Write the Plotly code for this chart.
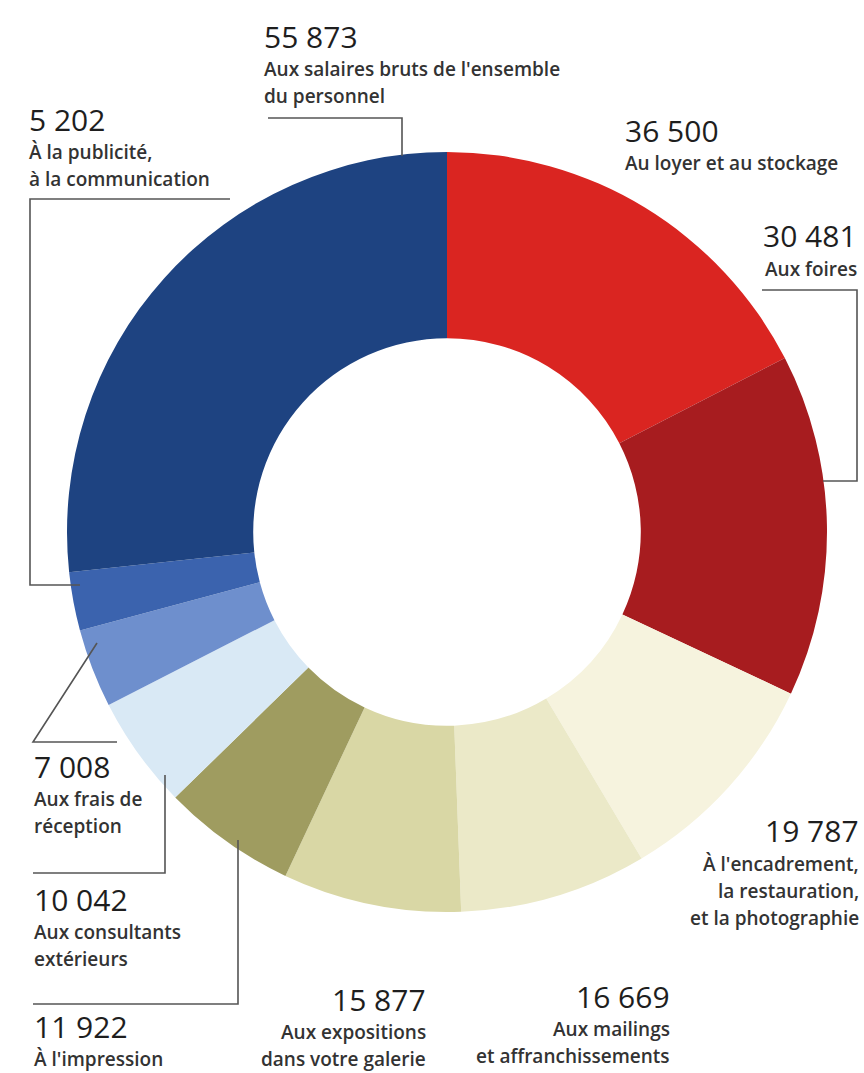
import plotly.graph_objects as go

# Expense breakdown (euros), clockwise from 12 o'clock
values = [36500, 30481, 19787, 16669, 15877, 11922, 10042, 7008, 5202, 55873]
captions = [
    ["Au loyer et au stockage"],
    ["Aux foires"],
    ["À l'encadrement,", "la restauration,", "et la photographie"],
    ["Aux mailings", "et affranchissements"],
    ["Aux expositions", "dans votre galerie"],
    ["À l'impression"],
    ["Aux consultants", "extérieurs"],
    ["Aux frais de", "réception"],
    ["À la publicité,", "à la communication"],
    ["Aux salaires bruts de l'ensemble", "du personnel"],
]
colors = ["#da2521", "#a71c1f", "#f6f3de", "#ebe9c8", "#d9d7a5", "#9f9c60",
          "#d9e9f5", "#6e8fcd", "#3b63ae", "#1e4381"]

W, H = 864, 1073


def px(x, y):
    return x / W, 1 - y / H


def fmt(v):
    return f"{v:,}".replace(",", " ")


# label anchor: x pixel, number centre y pixel, alignment
label_pos = [
    (624, 130, "left"),
    (858, 236, "right"),
    (860, 831, "right"),
    (671, 996, "right"),
    (427, 999, "right"),
    (33, 1026, "left"),
    (33, 899, "left"),
    (33, 766, "left"),
    (28, 119, "left"),
    (263, 36, "left"),
]

# leader lines in pixel space
leaders = [
    [(268, 118), (402, 118), (402, 156)],
    [(230, 199), (30, 199), (30, 585), (80, 585)],
    [(762, 290), (857, 290), (857, 481), (823, 481)],
    [(117, 742), (33, 742), (97, 643)],
    [(33, 873), (165, 873), (165, 775)],
    [(33, 1004), (238, 1004), (238, 840)],
]

fig = go.Figure()
fig.add_trace(go.Pie(
    values=values,
    labels=[" ".join(c) for c in captions],
    marker=dict(colors=colors, line=dict(width=0)),
    hole=0.51,
    sort=False,
    direction="clockwise",
    rotation=0,
    textinfo="none",
    hoverinfo="label+value",
    showlegend=False,
    domain=dict(x=[67 / W, 827 / W], y=[1 - 912 / H, 1 - 152 / H]),
))

annotations = []
for v, cap, (x, y, align) in zip(values, captions, label_pos):
    xp, yp = px(x, y)
    annotations.append(dict(
        x=xp, y=yp, xref="paper", yref="paper", text=fmt(v), showarrow=False,
        xanchor=align, yanchor="middle", borderpad=0,
        font=dict(family="Open Sans", size=30, color="#1e1e1e", weight=500),
    ))
    for i, line in enumerate(cap):
        xp, yp = px(x, y + 33 + 27 * i)
        annotations.append(dict(
            x=xp, y=yp, xref="paper", yref="paper", text=line, showarrow=False,
            xanchor=align, yanchor="middle", borderpad=0,
            font=dict(family="Open Sans", size=19, color="#333333", weight=600),
        ))

shapes = []
for pts in leaders:
    path = ""
    for i, (x, y) in enumerate(pts):
        xp, yp = px(x, y)
        path += ("M" if i == 0 else " L") + f" {xp:.5f},{yp:.5f}"
    shapes.append(dict(type="path", path=path, xref="paper", yref="paper",
                       line=dict(color="#555555", width=1.6)))

fig.update_layout(
    width=W, height=H,
    margin=dict(l=0, r=0, t=0, b=0),
    paper_bgcolor="white",
    plot_bgcolor="white",
    annotations=annotations,
    shapes=shapes,
)

fig.write_html("out.html")
